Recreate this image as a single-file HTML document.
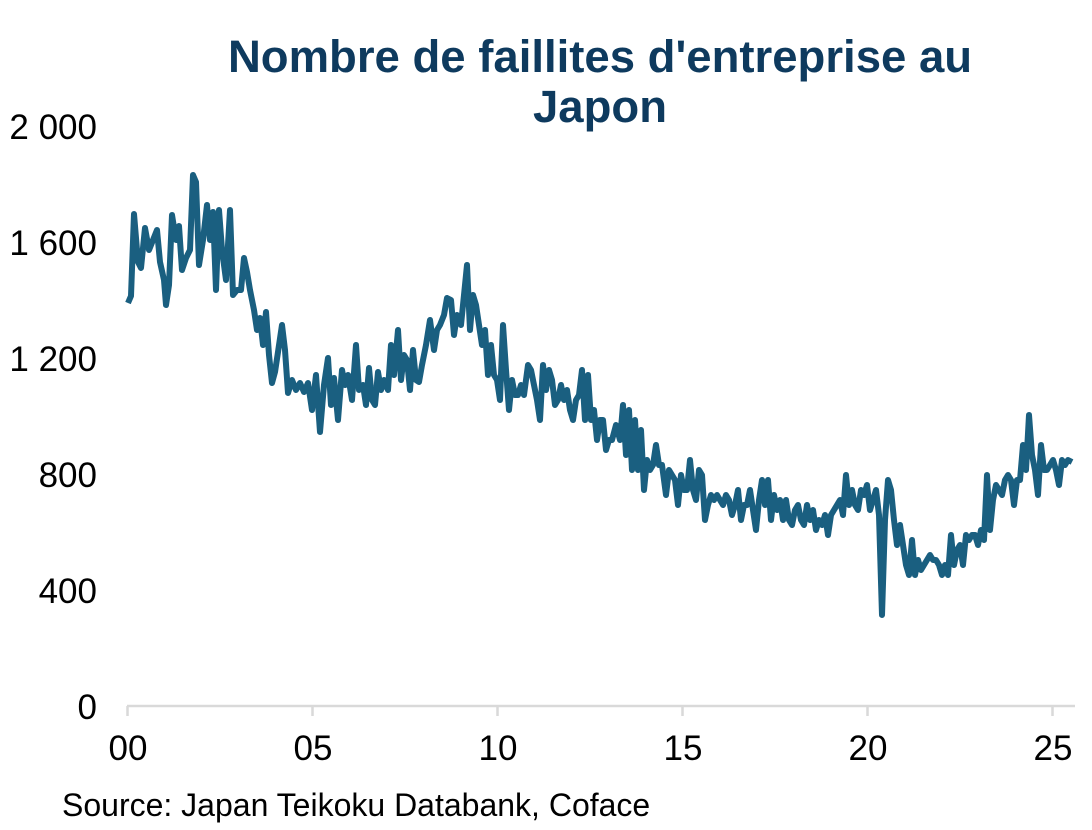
<!DOCTYPE html>
<html><head><meta charset="utf-8"><style>
body{margin:0;background:#fff;}
svg{display:block;font-family:"Liberation Sans",Arial,sans-serif;}
</style></head><body>
<svg width="1092" height="830" viewBox="0 0 1092 830">
<text x="600" y="72" text-anchor="middle" font-size="45.5" font-weight="bold" fill="#0e3a5e">Nombre de faillites d'entreprise au</text>
<text x="600" y="122" text-anchor="middle" font-size="45.5" font-weight="bold" fill="#0e3a5e">Japon</text>
<g font-size="35" fill="#000" text-anchor="end">
<text x="97" y="719">0</text>
<text x="97" y="603">400</text>
<text x="97" y="487">800</text>
<text x="97" y="371">1 200</text>
<text x="97" y="255">1 600</text>
<text x="97" y="139">2 000</text>
</g>
<g stroke="#d9d9d9" stroke-width="2.5" fill="none">
<line x1="127" y1="706" x2="1075" y2="706"/>
<line x1="127.5" y1="706" x2="127.5" y2="716"/>
<line x1="312.5" y1="706" x2="312.5" y2="716"/>
<line x1="497.5" y1="706" x2="497.5" y2="716"/>
<line x1="682.5" y1="706" x2="682.5" y2="716"/>
<line x1="867.5" y1="706" x2="867.5" y2="716"/>
<line x1="1052.5" y1="706" x2="1052.5" y2="716"/>
</g>
<g font-size="35" fill="#000" text-anchor="middle">
<text x="128" y="760">00</text>
<text x="313" y="760">05</text>
<text x="498" y="760">10</text>
<text x="683" y="760">15</text>
<text x="868" y="760">20</text>
<text x="1053" y="760">25</text>
</g>
<text x="62" y="816" font-size="32" fill="#000">Source: Japan Teikoku Databank, Coface</text>
<polyline fill="none" stroke="#1a5f80" stroke-width="6" stroke-linejoin="round" points="128,303 131,296 134,214 138,262 141,268 145,228 149,250 153,240 157,230 160,262 164,280 166,305 169,285 172,215 176,240 179,226 182,270 186,258 190,250 193,175 196,182 199,265 203,240 207,205 210,240 213,212 216,290 219,210 222,250 226,280 230,210 233,295 237,290 241,290 244,258 247,272 250,290 254,310 257,330 260,318 263,345 266,312 269,355 272,383 275,372 278,352 282,325 285,350 288,393 292,380 296,390 300,383 304,392 308,383 312,410 316,375 320,432 324,385 328,358 331,405 334,378 338,420 342,370 345,385 348,375 352,400 356,345 359,390 363,385 366,405 369,368 372,400 375,405 378,372 381,390 384,380 388,390 391,345 394,375 398,330 401,380 404,355 407,360 410,390 413,350 416,380 419,382 422,365 426,345 430,320 434,350 437,330 440,325 444,315 447,298 451,300 454,335 457,315 461,325 464,295 467,265 470,330 473,295 476,305 479,325 482,345 485,330 488,375 491,345 494,375 497,380 500,400 503,325 506,370 509,410 512,380 515,395 518,395 521,385 524,395 528,365 531,370 534,385 537,400 540,420 543,365 546,390 549,370 552,380 555,405 558,400 561,385 564,400 567,390 570,410 573,420 576,400 579,395 582,370 585,420 588,375 591,420 594,410 597,440 600,420 603,420 606,450 609,440 612,440 616,425 620,440 623,405 626,455 629,410 632,470 635,420 638,470 641,430 644,490 647,460 650,470 653,465 656,445 659,465 662,465 666,495 669,470 672,475 675,480 678,505 681,475 684,490 687,490 690,460 693,490 696,500 699,470 702,475 705,520 708,505 711,495 714,500 717,495 720,500 723,505 726,495 729,500 732,515 735,505 738,490 741,520 744,505 747,505 750,490 753,510 756,530 759,500 762,480 765,505 768,480 771,520 774,495 777,510 780,500 783,520 786,500 789,520 792,525 795,510 798,505 801,520 804,525 807,505 810,520 813,510 816,530 819,520 822,525 825,515 828,535 831,515 834,510 837,505 840,500 843,515 846,475 849,505 852,490 855,505 858,510 861,490 864,495 867,485 870,510 873,500 876,490 879,515 882,615 885,520 888,480 891,490 894,520 897,545 900,525 903,545 906,565 909,575 912,540 915,575 918,560 921,570 924,565 927,560 930,555 933,560 936,560 939,565 942,575 945,565 948,575 951,535 954,565 957,550 960,545 963,565 966,535 969,540 972,535 975,535 978,545 981,530 984,540 987,475 990,530 993,500 996,485 999,490 1002,495 1005,480 1008,475 1011,480 1014,505 1017,480 1020,480 1023,445 1026,470 1029,415 1032,455 1035,470 1038,495 1041,445 1044,470 1047,470 1050,465 1053,460 1056,470 1059,485 1062,460 1065,465 1068,460 1072,462"/>
</svg>
</body></html>
